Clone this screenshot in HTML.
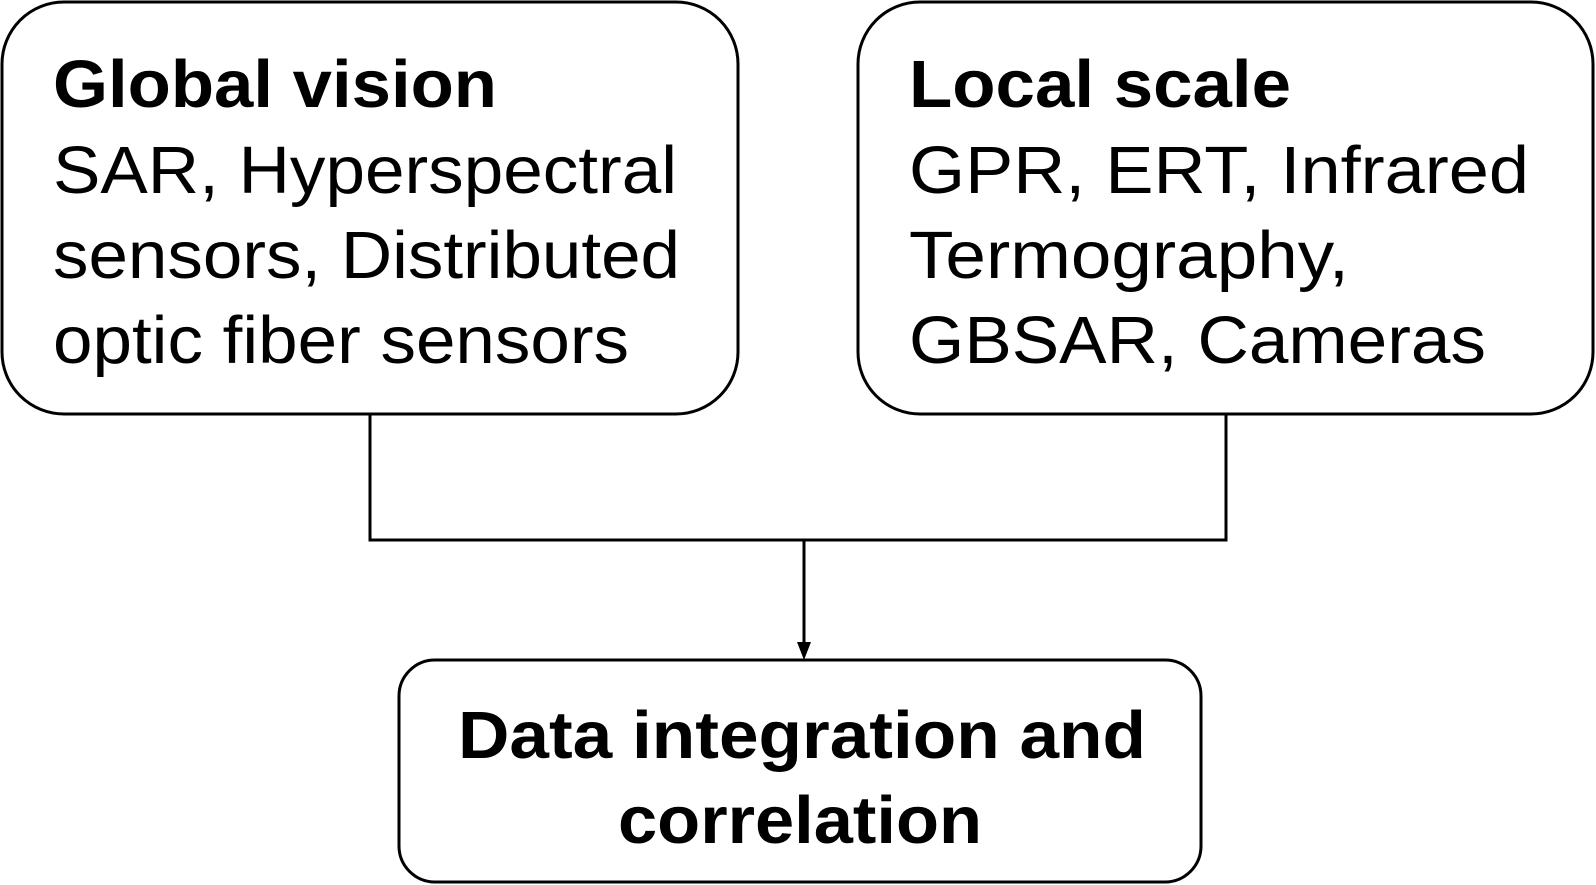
<!DOCTYPE html>
<html><head><style>
html,body{margin:0;padding:0;background:#fff;}
svg{display:block;}
text{font-family:"Liberation Sans",Arial,sans-serif;font-size:67px;fill:#000;}
.b{font-weight:bold;}
</style></head><body>
<svg width="1596" height="885" viewBox="0 0 1596 885" xmlns="http://www.w3.org/2000/svg">
<rect x="2" y="2" width="736" height="412" rx="62" fill="#fff" stroke="#000" stroke-width="3"/>
<rect x="858" y="2" width="735" height="412" rx="62" fill="#fff" stroke="#000" stroke-width="3"/>
<rect x="399" y="660" width="802" height="222" rx="36" fill="#fff" stroke="#000" stroke-width="3"/>
<path d="M370,414 V540 H1226 V414 M804,540 V644" fill="none" stroke="#000" stroke-width="3"/>
<path d="M797,642 L811,642 L804,660 Z" fill="#000"/>
<text x="53" y="107" class="b" textLength="444" lengthAdjust="spacingAndGlyphs">Global vision</text>
<text x="53" y="193" textLength="624" lengthAdjust="spacingAndGlyphs">SAR, Hyperspectral</text>
<text x="53" y="278" textLength="627" lengthAdjust="spacingAndGlyphs">sensors, Distributed</text>
<text x="53" y="363" textLength="576" lengthAdjust="spacingAndGlyphs">optic fiber sensors</text>
<text x="909" y="107" class="b" textLength="382" lengthAdjust="spacingAndGlyphs">Local scale</text>
<text x="909" y="193" textLength="620" lengthAdjust="spacingAndGlyphs">GPR, ERT, Infrared</text>
<text x="909" y="278" textLength="440" lengthAdjust="spacingAndGlyphs">Termography,</text>
<text x="909" y="363" textLength="577" lengthAdjust="spacingAndGlyphs">GBSAR, Cameras</text>
<text x="458" y="758" class="b" textLength="688" lengthAdjust="spacingAndGlyphs">Data integration and</text>
<text x="618" y="843" class="b" textLength="364" lengthAdjust="spacingAndGlyphs">correlation</text>
</svg>
</body></html>
